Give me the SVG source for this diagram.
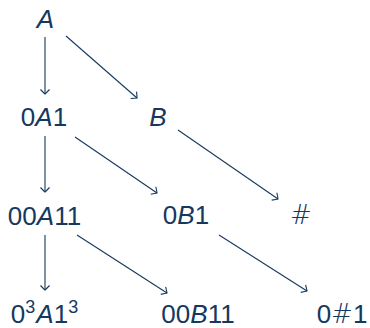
<svg xmlns="http://www.w3.org/2000/svg" width="370" height="328" viewBox="0 0 370 328">
<style>
.t{font-family:"Liberation Sans","DejaVu Sans",sans-serif;font-size:26px;fill:#15395e;text-anchor:middle}
.i{font-style:italic}
.s{font-size:18px}
.h{font-family:"DejaVu Sans",sans-serif;font-weight:200}
.e{stroke:#15395e;stroke-width:1.1;fill:none;marker-end:url(#to)}
</style>
<defs>
<marker id="to" markerUnits="userSpaceOnUse" markerWidth="12" markerHeight="12" viewBox="-6 -6 12 12" refX="0" refY="0" orient="auto" overflow="visible">
<path d="M-4.5,-4.5 Q-1,-1.2 0,0 Q-1,1.2 -4.5,4.5" fill="none" stroke="#15395e" stroke-width="1.1"/>
</marker>
</defs>
<rect width="370" height="328" fill="#fff"/>
<g id="connectors">
<line class="e" x1="45" y1="37" x2="45" y2="94"/>
<line class="e" x1="66" y1="36" x2="137" y2="98"/>
<line class="e" x1="45" y1="136" x2="45" y2="192"/>
<line class="e" x1="75" y1="137" x2="157" y2="193"/>
<line class="e" x1="178" y1="130" x2="278" y2="199"/>
<line class="e" x1="45" y1="235" x2="45" y2="290"/>
<line class="e" x1="77" y1="235" x2="167" y2="293"/>
<line class="e" x1="219" y1="235" x2="307" y2="291"/>
</g>
<g id="nA"><text class="t i" x="45.5" y="28">A</text></g>
<g id="n0A1"><text class="t" x="44" y="126">0<tspan class="i">A</tspan>1</text></g>
<g id="nB"><text class="t i" x="158" y="126">B</text></g>
<g id="n00A11"><text class="t" x="44.5" y="225">00<tspan class="i">A</tspan>11</text></g>
<g id="n0B1"><text class="t" x="186" y="224">0<tspan class="i">B</tspan>1</text></g>
<g id="nHash"><text class="t h" x="301" y="224">#</text></g>
<g id="n03A13"><text class="t" x="44.5" y="323">0<tspan class="s" dy="-10">3</tspan><tspan class="i" dy="10" dx="1">A</tspan>1<tspan class="s" dy="-10">3</tspan></text></g>
<g id="n00B11"><text class="t" x="198" y="323">00<tspan class="i">B</tspan>11</text></g>
<g id="n0H1"><text class="t" x="342" y="323">0<tspan class="h">#</tspan>1</text></g>
</svg>
